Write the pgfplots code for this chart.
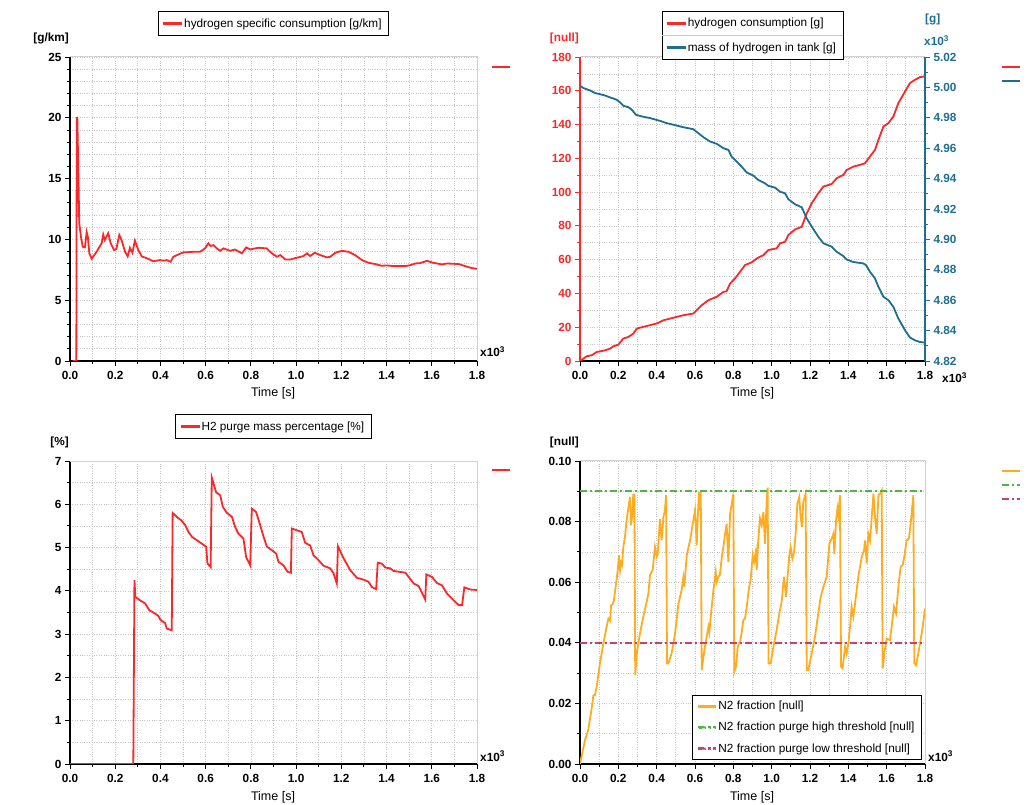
\documentclass[border=0pt]{standalone}
\usepackage{pgfplots}
\usepackage{pgfplotstable}
\pgfplotsset{compat=1.18}
\usepackage{fontspec}
\setmainfont{Liberation Sans}
\definecolor{myred}{RGB}{250,40,40}
\definecolor{myteal}{RGB}{30,110,145}
\definecolor{myorange}{RGB}{255,172,32}
\definecolor{mygreen}{RGB}{80,180,70}
\definecolor{mypink}{RGB}{195,65,115}
\definecolor{gridc}{RGB}{200,200,200}
\definecolor{borderc}{RGB}{210,210,210}
\newcommand{\tf}{\fontsize{11.8}{13}\selectfont}

\pgfplotstableread{
t v
0.012 0
0.028 0
0.030 20.0
0.0324 20.0
0.041 11.3
0.0487 10.2
0.056 9.4
0.066 9.35
0.0738 10.6
0.079 10.2
0.0855 8.85
0.096 8.4
0.118 9.0
0.140 9.68
0.147 10.4
0.154 9.95
0.169 10.5
0.180 9.68
0.195 9.13
0.205 9.2
0.218 10.36
0.228 9.95
0.243 9.0
0.255 8.6
0.265 9.3
0.276 8.9
0.287 9.9
0.302 9.13
0.317 8.6
0.339 8.46
0.368 8.2
0.398 8.3
0.415 8.25
0.428 8.3
0.445 8.16
0.457 8.57
0.500 8.93
0.546 8.98
0.575 8.98
0.597 9.26
0.612 9.67
0.622 9.45
0.634 9.53
0.649 9.26
0.664 9.06
0.679 9.26
0.708 9.06
0.730 9.17
0.760 8.85
0.779 9.34
0.797 9.17
0.819 9.26
0.834 9.31
0.870 9.26
0.893 8.85
0.915 8.57
0.930 8.71
0.952 8.35
0.974 8.35
1.003 8.49
1.033 8.63
1.048 8.85
1.062 8.63
1.082 8.9
1.107 8.71
1.136 8.52
1.151 8.57
1.173 8.9
1.202 9.06
1.232 8.98
1.261 8.71
1.291 8.3
1.320 8.08
1.350 7.97
1.379 7.83
1.402 7.86
1.431 7.8
1.483 7.8
1.505 7.88
1.527 8.02
1.549 8.05
1.579 8.24
1.601 8.1
1.623 8.02
1.645 7.94
1.667 8.02
1.719 7.97
1.748 7.8
1.777 7.64
1.8 7.58
}\specific

\pgfplotstableread{
t v
0 0
0.035 2.8
0.061 3.4
0.087 5.3
0.130 6.3
0.157 7.3
0.174 8.7
0.200 9.7
0.226 13.3
0.252 14.2
0.278 16.2
0.296 19.2
0.330 20.2
0.365 21.2
0.400 22.2
0.435 24.1
0.470 25.1
0.504 26.1
0.539 27.1
0.591 28.1
0.609 30.1
0.635 33.0
0.670 36.0
0.713 38.0
0.748 40.9
0.765 41.3
0.783 45.9
0.809 48.9
0.835 52.8
0.861 56.8
0.896 58.4
0.922 60.7
0.957 62.7
0.983 65.7
1.026 66.7
1.043 69.6
1.070 70.6
1.087 74.6
1.122 77.9
1.157 79.5
1.183 87.4
1.209 93.4
1.243 99.3
1.270 103.3
1.313 104.8
1.339 108.2
1.374 110.2
1.391 113.1
1.426 115.1
1.461 116.1
1.487 117.1
1.513 121.1
1.539 125.0
1.557 130.9
1.583 138.9
1.609 140.8
1.635 144.8
1.661 152.7
1.696 159.6
1.722 164.6
1.748 166.5
1.774 168.1
1.8 168.5
}\consumption

\pgfplotstableread{
t m
0 5.0011
0.017 4.9996
0.052 4.9980
0.078 4.9963
0.130 4.9947
0.157 4.9934
0.191 4.9919
0.209 4.9901
0.226 4.9879
0.252 4.9870
0.270 4.9853
0.292 4.9820
0.322 4.9809
0.365 4.9798
0.417 4.9780
0.452 4.9765
0.504 4.9749
0.539 4.9738
0.591 4.9725
0.617 4.9699
0.643 4.9673
0.678 4.9644
0.713 4.9629
0.748 4.9600
0.774 4.9589
0.791 4.9545
0.817 4.9512
0.843 4.9479
0.870 4.9440
0.904 4.9420
0.930 4.9391
0.965 4.9369
0.983 4.9352
1.017 4.9341
1.043 4.9314
1.070 4.9303
1.087 4.9264
1.122 4.9231
1.157 4.9211
1.183 4.9138
1.209 4.9084
1.243 4.9018
1.270 4.8974
1.313 4.8952
1.339 4.8919
1.374 4.8890
1.391 4.8868
1.426 4.8851
1.478 4.8842
1.492 4.8831
1.513 4.8787
1.539 4.8743
1.557 4.8688
1.583 4.8622
1.609 4.8600
1.635 4.8556
1.661 4.8479
1.696 4.8402
1.722 4.8354
1.748 4.8336
1.774 4.8325
1.8 4.8321
}\tank

\pgfplotstableread{
t v
0 0
0.280 0
0.285 4.25
0.289 3.86
0.310 3.78
0.332 3.71
0.351 3.55
0.369 3.50
0.391 3.42
0.401 3.32
0.420 3.26
0.428 3.13
0.450 3.09
0.454 5.80
0.472 5.71
0.494 5.62
0.509 5.52
0.524 5.36
0.539 5.25
0.561 5.17
0.583 5.09
0.602 5.02
0.608 4.63
0.622 4.55
0.627 6.62
0.646 6.28
0.664 6.21
0.676 5.94
0.694 5.80
0.716 5.71
0.730 5.48
0.745 5.32
0.767 5.21
0.779 4.78
0.797 4.59
0.804 5.90
0.823 5.82
0.841 5.52
0.856 5.25
0.871 5.02
0.893 4.94
0.912 4.86
0.922 4.67
0.944 4.59
0.962 4.44
0.977 4.42
0.981 5.44
1.003 5.40
1.025 5.36
1.040 5.11
1.062 5.05
1.077 4.82
1.099 4.71
1.121 4.58
1.151 4.52
1.166 4.40
1.180 4.17
1.185 5.03
1.210 4.75
1.239 4.48
1.269 4.30
1.298 4.26
1.320 4.21
1.335 4.09
1.354 4.04
1.361 4.65
1.379 4.63
1.394 4.54
1.416 4.52
1.431 4.46
1.483 4.42
1.498 4.32
1.520 4.17
1.542 4.11
1.557 3.95
1.571 3.80
1.576 4.38
1.601 4.32
1.623 4.18
1.645 4.13
1.667 3.94
1.697 3.78
1.719 3.67
1.734 3.67
1.744 4.08
1.771 4.03
1.8 4.02
}\purge

\pgfplotstableread{
t v
0 0
0.026 0.0079
0.043 0.0112
0.061 0.0184
0.070 0.0227
0.078 0.0227
0.087 0.0255
0.104 0.0332
0.122 0.0398
0.139 0.0453
0.148 0.0480
0.157 0.0473
0.162 0.0524
0.170 0.0527
0.177 0.0540
0.188 0.0596
0.197 0.0640
0.203 0.0689
0.209 0.0640
0.214 0.0664
0.219 0.0657
0.226 0.0716
0.235 0.0752
0.243 0.0804
0.254 0.0854
0.261 0.0881
0.266 0.0788
0.273 0.0821
0.278 0.0892
0.282 0.0848
0.284 0.0892
0.288 0.0293
0.296 0.0365
0.313 0.0431
0.330 0.0486
0.344 0.0524
0.357 0.0563
0.365 0.0623
0.379 0.0640
0.391 0.0716
0.400 0.0684
0.405 0.0690
0.417 0.0808
0.426 0.0738
0.435 0.0815
0.443 0.0837
0.449 0.0887
0.454 0.0332
0.461 0.0332
0.478 0.0365
0.496 0.0431
0.513 0.0527
0.530 0.0574
0.539 0.0615
0.544 0.0585
0.557 0.0689
0.574 0.0738
0.600 0.0837
0.609 0.0722
0.614 0.0810
0.621 0.0898
0.626 0.0837
0.630 0.0900
0.635 0.0310
0.644 0.0354
0.652 0.0387
0.661 0.0420
0.670 0.0453
0.675 0.0435
0.682 0.0486
0.696 0.0574
0.708 0.0634
0.713 0.0601
0.722 0.0618
0.730 0.0625
0.741 0.0689
0.748 0.0716
0.757 0.0760
0.765 0.0793
0.774 0.0667
0.783 0.0826
0.791 0.0854
0.800 0.0892
0.805 0.0304
0.814 0.0321
0.823 0.0387
0.835 0.0403
0.843 0.0431
0.852 0.0475
0.861 0.0480
0.870 0.0519
0.878 0.0563
0.883 0.0585
0.890 0.0607
0.901 0.0689
0.908 0.0667
0.917 0.0700
0.922 0.0640
0.930 0.0738
0.939 0.0810
0.948 0.0788
0.957 0.0832
0.965 0.0727
0.974 0.0870
0.979 0.0912
0.984 0.0332
0.995 0.0332
1.009 0.0387
1.026 0.0442
1.040 0.0497
1.052 0.0535
1.064 0.0618
1.075 0.0552
1.083 0.0618
1.092 0.0689
1.099 0.0716
1.108 0.0678
1.117 0.0700
1.125 0.0760
1.134 0.0859
1.144 0.0881
1.151 0.0815
1.158 0.0782
1.165 0.0865
1.177 0.0892
1.183 0.0310
1.191 0.0310
1.209 0.0365
1.226 0.0420
1.243 0.0497
1.256 0.0552
1.270 0.0585
1.287 0.0618
1.301 0.0727
1.313 0.0744
1.322 0.0760
1.327 0.0694
1.336 0.0804
1.343 0.0843
1.348 0.0821
1.356 0.0887
1.362 0.0321
1.370 0.0315
1.383 0.0387
1.391 0.0365
1.400 0.0398
1.409 0.0453
1.417 0.0519
1.426 0.0486
1.435 0.0530
1.452 0.0618
1.470 0.0684
1.482 0.0705
1.487 0.0738
1.496 0.0662
1.504 0.0760
1.513 0.0738
1.522 0.0815
1.531 0.0892
1.539 0.0815
1.548 0.0760
1.557 0.0887
1.565 0.0892
1.574 0.0903
1.579 0.0315
1.591 0.0381
1.600 0.0414
1.617 0.0409
1.626 0.0453
1.638 0.0519
1.649 0.0497
1.661 0.0585
1.673 0.0651
1.683 0.0656
1.692 0.0684
1.704 0.0738
1.716 0.0744
1.727 0.0804
1.739 0.0887
1.744 0.0332
1.753 0.0326
1.765 0.0365
1.777 0.0409
1.788 0.0453
1.8 0.0513
}\nitro

\pgfplotsset{
  base/.style={
    scale only axis, width=407pt, height=304pt,
    xmin=0, xmax=1.8,
    xtick={0,0.2,0.4,0.6,0.8,1,1.2,1.4,1.6,1.8},
    minor x tick num=1,
    axis x line*=bottom, axis y line*=left,
    xtick pos=bottom, ytick pos=left,
    tick align=outside, major tick length=5pt, minor tick length=3pt,
    every tick/.style={line width=0.9pt, black},
    axis line style={line width=1.1pt},
    grid=both,
    major grid style={gridc, dotted, line width=0.7pt},
    minor grid style={gridc, dotted, line width=0.7pt},
    clip mode=individual,
    scaled ticks=false,
    /pgf/number format/assume math mode=true,
    tick label style={font=\tf\bfseries},
    xticklabel style={/pgf/number format/.cd, fixed, fixed zerofill, precision=1, /tikz/.cd, yshift=-2pt},
    legend style={draw=black, line width=0.9pt, fill=white, font=\tf,
      inner xsep=5pt, inner ysep=5pt, cells={anchor=west}},
    legend cell align=left,
    legend image code/.code={\fill[#1] (0pt,-1pt) rectangle (17pt,1pt);},
  },
  gline/.style={line width=1.8pt},
  ddleg/.style={legend image code/.code={\fill[##1] (0pt,-1pt) rectangle (7pt,1pt) (10pt,-1pt) rectangle (12pt,1pt) (15pt,-1pt) rectangle (17pt,1pt);}},
  dd/.style={line width=1.8pt, dash pattern=on 7pt off 3pt on 2pt off 3pt},
}

\begin{document}
\begin{tikzpicture}[x=1pt,y=1pt]
\path[use as bounding box] (0,0) rectangle (1027,805);

% ---------- panel 1
\begin{axis}[base, at={(70pt,444pt)}, anchor=south west,
  ymin=0, ymax=25, ytick={0,5,10,15,20,25}, minor y tick num=4,
  legend style={at={(rel axis cs:0.5,1)}, anchor=south, yshift=21pt}]
\draw[borderc, line width=1pt] (rel axis cs:0,1) -- (rel axis cs:1,1) -- (rel axis cs:1,0);
\addplot[color=myred, gline] table[x=t,y=v] {\specific};
\addlegendentry{hydrogen specific consumption [g/km]}
\end{axis}

% ---------- panel 2
\begin{axis}[base, width=345pt, at={(580pt,444pt)}, anchor=south west,
  ymin=0, ymax=180, ytick={0,20,40,60,80,100,120,140,160,180}, minor y tick num=1,
  y axis line style={myred}, ytick style={myred}, yticklabel style={myred},
  legend style={at={(rel axis cs:0.5,1)}, anchor=south, yshift=-3pt, row sep=10pt, inner ysep=5pt}]
\draw[borderc, line width=1pt] (rel axis cs:0,1) -- (rel axis cs:1,1);
\addplot[color=myred, gline] table[x=t,y=v] {\consumption};
\addlegendentry{hydrogen consumption [g]}
\addlegendimage{color=myteal, gline}
\addlegendentry{mass of hydrogen in tank [g]}
\end{axis}
\begin{axis}[scale only axis, width=345pt, height=304pt, at={(580pt,444pt)}, anchor=south west,
  xmin=0, xmax=1.8, axis x line=none, axis y line*=right,
  ymin=4.82, ymax=5.02, ytick={4.82,4.84,4.86,4.88,4.90,4.92,4.94,4.96,4.98,5.00,5.02},
  minor y tick num=1, ytick pos=right,
  tick align=outside, major tick length=5pt, minor tick length=3pt,
  every tick/.style={line width=0.9pt, myteal},
  axis line style={line width=1.1pt, myteal},
  scaled ticks=false, clip mode=individual,
  /pgf/number format/assume math mode=true,
  yticklabel style={font=\tf\bfseries, myteal, /pgf/number format/.cd, fixed, fixed zerofill, precision=2}]
\addplot[color=myteal, gline] table[x=t,y=m] {\tank};
\end{axis}
\draw[gridc, line width=0.8pt] (662,770) -- (843,770);

% ---------- panel 3
\begin{axis}[base, height=303pt, at={(70pt,41pt)}, anchor=south west,
  ymin=0, ymax=7, ytick={0,1,2,3,4,5,6,7}, minor y tick num=1,
  legend style={at={(rel axis cs:0.5,1)}, anchor=south, yshift=22pt}]
\draw[borderc, line width=1pt] (rel axis cs:0,1) -- (rel axis cs:1,1) -- (rel axis cs:1,0);
\addplot[color=myred, gline] table[x=t,y=v] {\purge};
\addlegendentry{H2 purge mass percentage [\%]}
\end{axis}

% ---------- panel 4
\begin{axis}[base, width=345pt, height=303pt, at={(580pt,41pt)}, anchor=south west,
  ymin=0, ymax=0.1, ytick={0,0.02,0.04,0.06,0.08,0.1}, minor y tick num=1,
  yticklabel style={/pgf/number format/.cd, fixed, fixed zerofill, precision=2},
  legend style={at={(rel axis cs:1,0)}, anchor=south east, xshift=-3pt, yshift=4pt, row sep=7pt, inner ysep=4pt}]
\draw[borderc, line width=1pt] (rel axis cs:0,1) -- (rel axis cs:1,1) -- (rel axis cs:1,0);
\addplot[color=myorange, gline] table[x=t,y=v] {\nitro};
\addlegendentry{N2 fraction [null]}
\addplot[color=mygreen, dd, ddleg] coordinates {(0,0.09) (1.8,0.09)};
\addlegendentry{N2 fraction purge high threshold [null]}
\addplot[color=mypink, dd, ddleg] coordinates {(0,0.04) (1.8,0.04)};
\addlegendentry{N2 fraction purge low threshold [null]}
\end{axis}

% ---------- unit labels and multipliers
\node[anchor=east, font=\tf\bfseries, inner sep=0pt] at (69,767) {[g/km]};
\node[anchor=east, font=\tf\bfseries, inner sep=0pt, myred] at (579,767) {[null]};
\node[anchor=west, font=\tf\bfseries, inner sep=0pt, myteal] at (925,786) {[g]};
\node[anchor=west, font=\tf\bfseries, inner sep=0pt, myteal] at (924,764) {x10\textsuperscript{3}};
\node[anchor=east, font=\tf\bfseries, inner sep=0pt] at (69,363) {[\%]};
\node[anchor=east, font=\tf\bfseries, inner sep=0pt] at (579,363) {[null]};

\node[anchor=west, font=\tf\bfseries, inner sep=0pt] at (480,453) {x10\textsuperscript{3}};
\node[anchor=west, font=\tf\bfseries, inner sep=0pt] at (942,427) {x10\textsuperscript{3}};
\node[anchor=west, font=\tf\bfseries, inner sep=0pt] at (480,49) {x10\textsuperscript{3}};
\node[anchor=west, font=\tf\bfseries, inner sep=0pt] at (928,49) {x10\textsuperscript{3}};

\node[font=\fontsize{12.5}{14}\selectfont, inner sep=0pt] at (273,412) {Time [s]};
\node[font=\fontsize{12.5}{14}\selectfont, inner sep=0pt] at (752,412) {Time [s]};
\node[font=\fontsize{12.5}{14}\selectfont, inner sep=0pt] at (273,8) {Time [s]};
\node[font=\fontsize{12.5}{14}\selectfont, inner sep=0pt] at (752,8) {Time [s]};

% ---------- side legend stubs
\draw[myred, line width=1.8pt] (492,738) -- (510,738);
\draw[myred, line width=1.8pt] (1002,738) -- (1020,738);
\draw[myteal, line width=1.8pt] (1002,724) -- (1020,724);
\draw[myred, line width=1.8pt] (492,335) -- (510,335);
\draw[myorange, line width=1.8pt] (1002,334) -- (1020,334);
\draw[mygreen, line width=1.8pt, dash pattern=on 7pt off 3pt on 2pt off 3pt] (1002,320) -- (1020,320);
\draw[mypink, line width=1.8pt, dash pattern=on 7pt off 3pt on 2pt off 3pt] (1002,306) -- (1020,306);
\end{tikzpicture}
\end{document}
